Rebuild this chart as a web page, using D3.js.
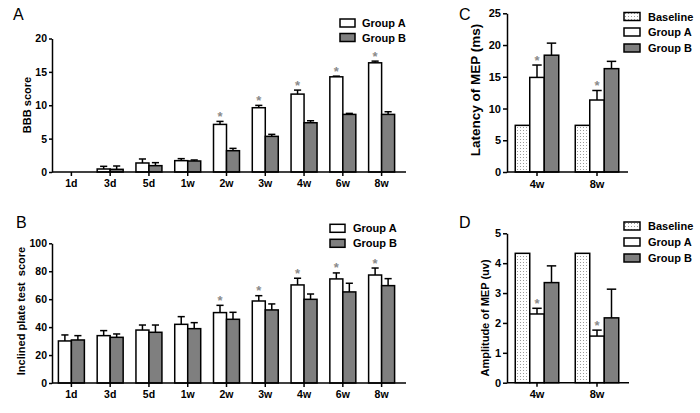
<!DOCTYPE html>
<html><head><meta charset="utf-8">
<script src="https://cdn.jsdelivr.net/npm/d3@7"></script>
<style>body{margin:0;background:#fff} text{font-family:Arial,"Liberation Sans",sans-serif}</style>
</head><body><svg id="c" width="700" height="413"></svg>
<script>
const timeCats = ["1d","3d","5d","1w","2w","3w","4w","6w","8w"];
const bbbA    = [0, 0.45, 1.35, 1.7, 7.13, 9.63, 11.67, 14.26, 16.36];
const bbbAErr = [0, 0.4, 0.6, 0.3, 0.45, 0.35, 0.6, 0.1, 0.25];
const bbbB    = [0, 0.4, 0.95, 1.65, 3.19, 5.34, 7.38, 8.63, 8.63];
const bbbBErr = [0, 0.5, 0.45, 0.15, 0.35, 0.3, 0.3, 0.15, 0.4];
const bbbSig  = [false,false,false,false,true,true,true,true,true];
const bbbTicks = [0,5,10,15,20];

const plateA    = [30.1, 33.9, 37.9, 42.0, 50.4, 58.7, 70.2, 74.5, 77.3];
const plateAErr = [4.3, 3.6, 3.6, 5.5, 5.2, 3.8, 4.8, 4.3, 5.0];
const plateB    = [30.8, 32.7, 36.3, 38.9, 45.6, 52.3, 59.9, 65.2, 69.7];
const plateBErr = [3.1, 2.4, 5.2, 4.3, 5.0, 4.3, 3.8, 6.2, 5.0];
const plateSig  = [false,false,false,false,true,true,true,true,true];
const plateTicks = [0,20,40,60,80,100];

const mepCats = ["4w","8w"];
const latBase = [7.35, 7.35];
const latA    = [14.9, 11.34];
const latAErr = [1.95, 1.5];
const latB    = [18.4, 16.28];
const latBErr = [1.9, 1.15];
const latSig  = [true, true];
const latTicks = [0,5,10,15,20,25];

const ampBase = [4.33, 4.33];
const ampA    = [2.3, 1.56];
const ampAErr = [0.19, 0.2];
const ampB    = [3.35, 2.17];
const ampBErr = [0.56, 0.96];
const ampSig  = [true, true];
const ampTicks = [0,1,2,3,4,5];

const GREY = "#7f7f7f";
const svg = d3.select("#c");
const defs = svg.append("defs");
const pat = defs.append("pattern").attr("id","dots").attr("patternUnits","userSpaceOnUse")
  .attr("width",3).attr("height",3);
pat.append("rect").attr("width",3).attr("height",3).attr("fill","#fff");
pat.append("rect").attr("x",1).attr("y",1).attr("width",1).attr("height",1).attr("fill","#9a9a9a");

function panel(cfg) {
  const g = svg.append("g");
  const x0 = d3.scaleBand().domain(cfg.cats).range(cfg.xRange)
    .paddingInner(cfg.pad).paddingOuter(cfg.pad/2);
  const keys = cfg.series.map(s => s.key);
  const x1 = d3.scaleBand().domain(keys).range([0, x0.bandwidth()]);
  const y = d3.scaleLinear().domain(cfg.yDomain).range(cfg.yRange);
  const bw = x1.bandwidth();

  cfg.series.forEach(s => {
    const sg = g.append("g");
    sg.selectAll("rect").data(cfg.cats).join("rect")
      .attr("x", (c) => x0(c) + x1(s.key))
      .attr("y", (c,i) => y(s.values[i]))
      .attr("width", bw)
      .attr("height", (c,i) => y(0) - y(s.values[i]))
      .attr("fill", s.fill).attr("stroke","#000").attr("stroke-width",1.5);
    if (s.errs) {
      cfg.cats.forEach((c,i) => {
        if (s.errs[i] <= 0 || s.values[i] <= 0) return;
        const cx = x0(c) + x1(s.key) + bw/2;
        const top = y(s.values[i] + s.errs[i]);
        sg.append("line").attr("x1",cx).attr("x2",cx).attr("y1",y(s.values[i])).attr("y2",top)
          .attr("stroke","#000").attr("stroke-width",1.5);
        sg.append("line").attr("x1",cx - bw*cfg.cap/2).attr("x2",cx + bw*cfg.cap/2).attr("y1",top).attr("y2",top)
          .attr("stroke","#000").attr("stroke-width",1.5);
      });
    }
    if (s.sig) {
      cfg.cats.forEach((c,i) => {
        if (!s.sig[i]) return;
        const cx = x0(c) + x1(s.key) + bw/2;
        const top = y(s.values[i] + (s.errs ? s.errs[i] : 0));
        g.append("text").attr("x",cx).attr("y", top - 0.5).attr("text-anchor","middle")
          .attr("font-size",13).attr("font-weight","bold").attr("fill","#8a8a8a").text("*");
      });
    }
  });

  const ya = g.append("g").attr("transform",`translate(${cfg.xRange[0]},0)`)
    .call(d3.axisLeft(y).tickValues(cfg.ticks).tickFormat(d3.format("d"))
      .tickSize(cfg.tickSize).tickSizeOuter(0).tickPadding(cfg.yPad));
  ya.selectAll("path,line").attr("stroke","#000").attr("stroke-width",1.5);
  ya.selectAll("text").attr("font-size",cfg.tickFont).attr("font-weight","bold").attr("fill","#000")
    .style("font-family","Arial, 'Liberation Sans', sans-serif");

  const xa = g.append("g").attr("transform",`translate(0,${y(0)})`)
    .call(d3.axisBottom(x0).tickSize(4).tickSizeOuter(0).tickPadding(cfg.xPad));
  xa.select(".domain").remove();
  xa.append("line").attr("x1",cfg.xRange[0]).attr("x2",cfg.axisEnd).attr("y1",0).attr("y2",0)
    .attr("stroke","#000").attr("stroke-width",1.5);
  xa.selectAll(".tick line").attr("stroke","#000").attr("stroke-width",1.5);
  xa.selectAll("text").attr("font-size",cfg.tickFont).attr("font-weight","bold").attr("fill","#000")
    .style("font-family","Arial, 'Liberation Sans', sans-serif");

  g.append("text").attr("transform",`translate(${cfg.ylabelX},${cfg.ylabelY}) rotate(-90)`)
    .attr("text-anchor","middle").attr("font-size",cfg.ylabelSize).attr("font-weight","bold")
    .attr("xml:space","preserve").text(cfg.ylabel);

  g.append("text").attr("x",cfg.letterPos[0]).attr("y",cfg.letterPos[1]).attr("font-size",16)
    .text(cfg.letter);

  cfg.series.forEach((s,i) => {
    const ly = cfg.legend.ys[i];
    g.append("rect").attr("x",cfg.legend.x).attr("y",ly-4).attr("width",cfg.legend.w).attr("height",8)
      .attr("fill",s.fill).attr("stroke","#000").attr("stroke-width",1.5);
    g.append("text").attr("x",cfg.legend.tx).attr("y",ly+4).attr("font-size",cfg.legend.size)
      .attr("font-weight","bold").text(s.key);
  });
}

panel({
  cats: timeCats, xRange:[52,401], axisEnd:406, pad:0.33, cap:0.55,
  yDomain:[0,20], yRange:[172,38.5], ticks:bbbTicks, tickSize:3, yPad:2, xPad:4, tickFont:10.5,
  series:[{key:"Group A", values:bbbA, errs:bbbAErr, fill:"#fff", sig:bbbSig},
          {key:"Group B", values:bbbB, errs:bbbBErr, fill:GREY}],
  ylabel:"BBB score", ylabelX:31, ylabelY:105, ylabelSize:11,
  letter:"A", letterPos:[13,20],
  legend:{x:340, w:15, tx:362, ys:[23,37.5], size:11}
});
panel({
  cats: timeCats, xRange:[52,401], axisEnd:406, pad:0.33, cap:0.55,
  yDomain:[0,100], yRange:[383,243.3], ticks:plateTicks, tickSize:3, yPad:2, xPad:4, tickFont:10.5,
  series:[{key:"Group A", values:plateA, errs:plateAErr, fill:"#fff", sig:plateSig},
          {key:"Group B", values:plateB, errs:plateBErr, fill:GREY}],
  ylabel:"Inclined plate test  score", ylabelX:25, ylabelY:311, ylabelSize:11,
  letter:"B", letterPos:[16,228],
  legend:{x:330, w:15, tx:353, ys:[228.3,243.3], size:11}
});
panel({
  cats: mepCats, xRange:[507,627], axisEnd:628, pad:0.275, cap:0.65,
  yDomain:[0,25], yRange:[172,13.3], ticks:latTicks, tickSize:4, yPad:2, xPad:4, tickFont:11,
  series:[{key:"Baseline", values:latBase, errs:null, fill:"url(#dots)"},
          {key:"Group A", values:latA, errs:latAErr, fill:"#fff", sig:latSig},
          {key:"Group B", values:latB, errs:latBErr, fill:GREY}],
  ylabel:"Latency of MEP (ms)", ylabelX:480, ylabelY:90, ylabelSize:13.5,
  letter:"C", letterPos:[459,20],
  legend:{x:624, w:16, tx:648, ys:[16.5,32,48], size:11}
});
panel({
  cats: mepCats, xRange:[507,627], axisEnd:629, pad:0.275, cap:0.65,
  yDomain:[0,5], yRange:[382.7,233.3], ticks:ampTicks, tickSize:4, yPad:2, xPad:4, tickFont:11,
  series:[{key:"Baseline", values:ampBase, errs:null, fill:"url(#dots)"},
          {key:"Group A", values:ampA, errs:ampAErr, fill:"#fff", sig:ampSig},
          {key:"Group B", values:ampB, errs:ampBErr, fill:GREY}],
  ylabel:"Amplitude of MEP (uv)", ylabelX:489, ylabelY:318, ylabelSize:11,
  letter:"D", letterPos:[459,228],
  legend:{x:624, w:16, tx:648, ys:[226,242,258], size:11}
});
</script></body></html>
